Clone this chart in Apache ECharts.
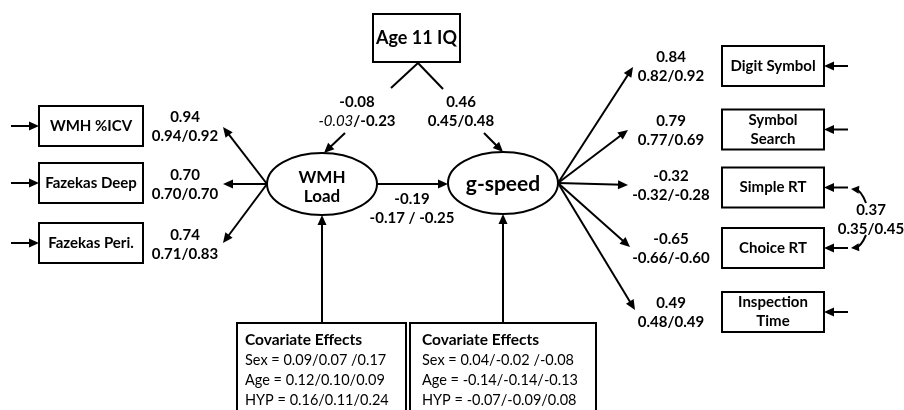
<!DOCTYPE html>
<html>
<head>
    <meta charset="utf-8">
    <title>WMH Load / g-speed path model</title>
    <script src="https://cdn.jsdelivr.net/npm/echarts@6.0.0/dist/echarts.min.js"></script>
    <style>
        html, body { margin: 0; padding: 0; background: #fff; }
        #chart { width: 904px; height: 410px; }
    </style>
</head>
<body>
    <div id="chart"></div>

    <script>
        // 观测变量
        const wmhIndicators = ['WMH %ICV', 'Fazekas Deep', 'Fazekas Peri.'];
        const gIndicators = ['Digit Symbol', 'Symbol\nSearch', 'Simple RT', 'Choice RT', 'Inspection\nTime'];
        const latentNames = ['WMH\nLoad', 'g-speed'];
        const predictorName = 'Age 11 IQ';

        // 载荷：全样本，然后两个子组
        const wmhLoadings = [0.94, 0.70, 0.74];
        const wmhLoadingsSplit = [[0.94, 0.92], [0.70, 0.70], [0.71, 0.83]];
        const gLoadings = [0.84, 0.79, -0.32, -0.65, 0.49];
        const gLoadingsSplit = [[0.82, 0.92], [0.77, 0.69], [-0.32, -0.28], [-0.66, -0.60], [0.48, 0.49]];

        // 结构路径 [全样本, 组1, 组2]
        const pathWmhToG = [-0.19, -0.17, -0.25];
        const pathIqToWmh = [-0.08, -0.03, -0.23];
        const pathIqToG = [0.46, 0.45, 0.48];
        const rtResidualCorr = [0.37, 0.35, 0.45];

        // 协变量效应
        const covariateNames = ['Sex', 'Age', 'HYP'];
        const covariatesWmh = [[0.09, 0.07, 0.17], [0.12, 0.10, 0.09], [0.16, 0.11, 0.24]];
        const covariatesG = [[0.04, -0.02, -0.08], [-0.14, -0.14, -0.13], [-0.07, -0.09, 0.08]];

        // ---- 布局（像素坐标，画布 904 x 410） ----
        const wmhBoxY = [126, 183, 243];
        const gBoxY = [66, 129.5, 187.5, 248, 312];
        const wmhLabelY = [126.5, 184.5, 244.5];
        const gLabelY = [67, 131, 186, 249, 313];
        const wmhTips = [[223, 127], [223, 184], [223, 243]];
        const gTips = [[633, 67], [628, 130], [628, 185], [630, 247], [635, 310]];
        const latentPos = [[322, 184], [503, 183]];

        const FONT = 'Lato, "Open Sans", sans-serif';
        const NUM_SIZE = 15;
        const f = v => v.toFixed(2);
        const covRow = (name, v, i) =>
            name + ' = ' + f(v[0]) + '/' + f(v[1]) + (i === 0 ? ' /' : '/') + f(v[2]);

        // 方框
        const boxes = [];
        wmhIndicators.forEach((t, i) => boxes.push({ p: [91, wmhBoxY[i], 104, 40], text: t, size: 15 }));
        gIndicators.forEach((t, i) => boxes.push({ p: [773, gBoxY[i], 102, 40], text: t, size: 15 }));
        boxes.push({ p: [416.5, 38, 87, 48], text: predictorName, size: 18 });

        // 箭头
        const arrows = [];
        wmhTips.forEach(t => arrows.push([267, 184, t[0], t[1]]));
        gTips.forEach(t => arrows.push([558, 183, t[0], t[1]]));
        wmhBoxY.forEach(y => arrows.push([11, y, 39, y]));
        gBoxY.forEach(y => arrows.push([848, y, 824, y]));
        arrows.push([377, 184, 448, 184]);
        arrows.push([345, 133, 324, 153]);
        arrows.push([484, 133, 503, 152]);
        arrows.push([322, 323, 322, 215]);
        arrows.push([503, 323, 503, 214]);

        // 文字标签
        const labels = [];
        wmhLoadings.forEach((v, i) => labels.push({
            p: [185, wmhLabelY[i]], text: f(v) + '\n' + wmhLoadingsSplit[i].map(f).join('/')
        }));
        gLoadings.forEach((v, i) => labels.push({
            p: [671, gLabelY[i]], text: f(v) + '\n' + gLoadingsSplit[i].map(f).join('/')
        }));
        labels.push({ p: [357, 112], text: f(pathIqToWmh[0]) + '\n{i|' + f(pathIqToWmh[1]) + '}/' + f(pathIqToWmh[2]) });
        labels.push({ p: [461, 112], text: f(pathIqToG[0]) + '\n' + f(pathIqToG[1]) + '/' + f(pathIqToG[2]) });
        labels.push({ p: [412, 208.5], text: f(pathWmhToG[0]) + '\n' + f(pathWmhToG[1]) + ' / ' + f(pathWmhToG[2]) });
        labels.push({ p: [871, 219.5], text: f(rtResidualCorr[0]) + '\n' + f(rtResidualCorr[1]) + '/' + f(rtResidualCorr[2]) });

        // 协变量方框
        const covBoxes = [
            { p: [237, 323, 169, 100], tx: 245, rows: covariatesWmh },
            { p: [410, 323, 186, 100], tx: 422, rows: covariatesG }
        ];

        function head(tip, from, len, half) {
            const dx = tip[0] - from[0], dy = tip[1] - from[1];
            const d = Math.hypot(dx, dy), ux = dx / d, uy = dy / d;
            const bx = tip[0] - ux * len, by = tip[1] - uy * len;
            return {
                type: 'polygon',
                shape: { points: [tip, [bx - uy * half, by + ux * half], [bx + uy * half, by - ux * half]] },
                style: { fill: '#000' }
            };
        }

        const chart = echarts.init(document.getElementById('chart'));
        chart.setOption({
            animation: false,
            grid: { left: 0, right: 0, top: 0, bottom: 0 },
            xAxis: { type: 'value', min: 0, max: 904, show: false },
            yAxis: { type: 'value', min: 0, max: 410, inverse: true, show: false },
            series: [
                {
                    // Age 11 IQ 下方的分叉线（无箭头）
                    type: 'custom', clip: false, silent: true,
                    data: [[418, 63, 391, 88], [418, 63, 443, 89]],
                    renderItem(params, api) {
                        const a = api.coord([api.value(0), api.value(1)]);
                        const b = api.coord([api.value(2), api.value(3)]);
                        return { type: 'line', shape: { x1: a[0], y1: a[1], x2: b[0], y2: b[1] }, style: { stroke: '#000', lineWidth: 2 } };
                    }
                },
                {
                    // 残差相关曲线
                    type: 'custom', clip: false, silent: true,
                    data: [[866, 203, 861, 190, 851, 189], [866, 235, 861, 247, 851, 248]],
                    renderItem(params, api) {
                        const a = api.coord([api.value(0), api.value(1)]);
                        const c = api.coord([api.value(2), api.value(3)]);
                        const b = api.coord([api.value(4), api.value(5)]);
                        return {
                            type: 'group', children: [
                                { type: 'bezierCurve', shape: { x1: a[0], y1: a[1], cpx1: c[0], cpy1: c[1], x2: b[0] + 4, y2: b[1] }, style: { stroke: '#000', lineWidth: 2, fill: null } },
                                head(b, c, 8, 4)
                            ]
                        };
                    }
                },
                {
                    type: 'custom', clip: false, silent: true,
                    data: arrows,
                    renderItem(params, api) {
                        const a = api.coord([api.value(0), api.value(1)]);
                        const b = api.coord([api.value(2), api.value(3)]);
                        const dx = b[0] - a[0], dy = b[1] - a[1], d = Math.hypot(dx, dy);
                        return {
                            type: 'group', children: [
                                { type: 'line', shape: { x1: a[0], y1: a[1], x2: b[0] - dx / d * 5, y2: b[1] - dy / d * 5 }, style: { stroke: '#000', lineWidth: 2 } },
                                head(b, a, 10, 4.5)
                            ]
                        };
                    }
                },
                {
                    type: 'custom', clip: false, silent: true,
                    data: boxes.map(b => b.p),
                    renderItem(params, api) {
                        const c = api.coord([api.value(0), api.value(1)]);
                        const s = api.size([api.value(2), api.value(3)]);
                        const b = boxes[params.dataIndex];
                        return {
                            type: 'group', children: [
                                { type: 'rect', shape: { x: c[0] - s[0] / 2, y: c[1] - s[1] / 2, width: s[0], height: s[1] }, style: { fill: '#fff', stroke: '#000', lineWidth: 2 } },
                                { type: 'text', x: c[0], y: c[1], style: { text: b.text, fill: '#000', fontFamily: FONT, fontWeight: 'bold', fontSize: b.size, lineHeight: 19, align: 'center', verticalAlign: 'middle' } }
                            ]
                        };
                    }
                },
                {
                    type: 'custom', clip: false, silent: true,
                    data: latentPos.map(p => [p[0], p[1], 55, 31]),
                    renderItem(params, api) {
                        const c = api.coord([api.value(0), api.value(1)]);
                        const s = api.size([api.value(2), api.value(3)]);
                        const i = params.dataIndex;
                        return {
                            type: 'group', children: [
                                { type: 'ellipse', shape: { cx: c[0], cy: c[1], rx: s[0], ry: s[1] }, style: { fill: '#fff', stroke: '#000', lineWidth: 2 } },
                                { type: 'text', x: c[0], y: c[1] + (i === 0 ? 3 : 1), style: { text: latentNames[i], fill: '#000', fontFamily: FONT, fontWeight: 'bold', fontSize: i === 0 ? 17 : 21, lineHeight: 19, align: 'center', verticalAlign: 'middle' } }
                            ]
                        };
                    }
                },
                {
                    type: 'custom', clip: false, silent: true,
                    data: labels.map(l => l.p),
                    renderItem(params, api) {
                        const c = api.coord([api.value(0), api.value(1)]);
                        return {
                            type: 'text', x: c[0], y: c[1],
                            style: {
                                text: labels[params.dataIndex].text, fill: '#000',
                                fontFamily: FONT, fontWeight: 'bold', fontSize: NUM_SIZE, lineHeight: 19,
                                align: 'center', verticalAlign: 'middle',
                                rich: { i: { fontStyle: 'italic', fontWeight: 'normal', fontFamily: FONT, fontSize: NUM_SIZE, lineHeight: 19 } }
                            }
                        };
                    }
                },
                {
                    type: 'custom', clip: false, silent: true,
                    data: covBoxes.map(b => b.p),
                    renderItem(params, api) {
                        const tl = api.coord([api.value(0), api.value(1)]);
                        const s = api.size([api.value(2), api.value(3)]);
                        const b = covBoxes[params.dataIndex];
                        const children = [
                            { type: 'rect', shape: { x: tl[0], y: tl[1], width: s[0], height: s[1] }, style: { fill: '#fff', stroke: '#000', lineWidth: 2 } },
                            { type: 'text', x: b.tx, y: tl[1] + 17, style: { text: 'Covariate Effects', fill: '#000', fontFamily: FONT, fontWeight: 'bold', fontSize: 15.5, align: 'left', verticalAlign: 'middle' } }
                        ];
                        b.rows.forEach((r, i) => children.push({
                            type: 'text', x: b.tx, y: tl[1] + 37 + i * 20,
                            style: { text: covRow(covariateNames[i], r, i), fill: '#000', fontFamily: FONT, fontSize: 14.5, align: 'left', verticalAlign: 'middle' }
                        }));
                        return { type: 'group', children };
                    }
                }
            ]
        });
    </script>
</body>
</html>
